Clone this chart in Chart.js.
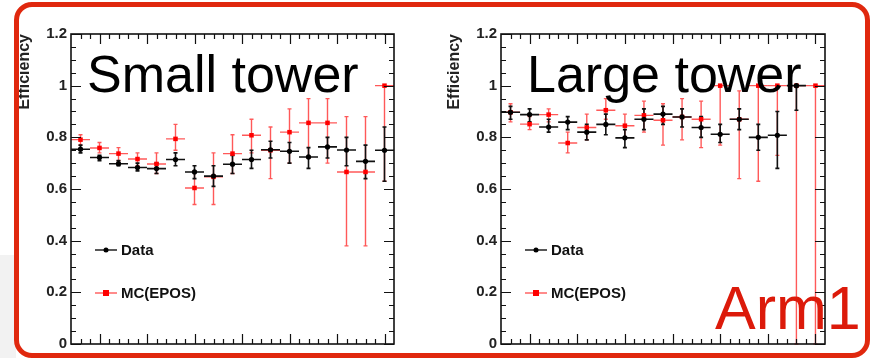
<!DOCTYPE html>
<html>
<head>
<meta charset="utf-8">
<script src="https://cdn.jsdelivr.net/npm/chart.js@4.4.1/dist/chart.umd.min.js"></script>
<style>
  html, body { margin: 0; padding: 0; background: #fff; }
  body { width: 871px; height: 358px; position: relative; overflow: hidden; font-family: "Liberation Sans", Arial, sans-serif; }
  canvas { position: absolute; top: 0; }
  #cLeft { left: 0; }
  #cRight { left: 430px; }
  .grey { position: absolute; left: 0; top: 255px; width: 16px; height: 103px; background: #f2f2f2; }
  .frame { position: absolute; left: 14px; top: 2px; width: 856px; height: 356px; box-sizing: border-box;
           border: 5px solid #e0280e; border-radius: 18px; }
  .title { position: absolute; top: 48px; font-size: 52px; line-height: 52px; color: #000; white-space: nowrap; }
  .arm { position: absolute; left: 715px; top: 278px; font-size: 61px; line-height: 61px; color: #dc1a0a; white-space: nowrap; }
</style>
</head>
<body>
<div class="grey"></div>
<canvas id="cLeft" width="435" height="358"></canvas>
<canvas id="cRight" width="441" height="358"></canvas>
<div class="frame"></div>
<div class="title" style="left:87px">Small tower</div>
<div class="title" style="left:527px">Large tower</div>
<div class="arm">Arm1</div>
<script>
// bins along the (unlabelled) x axis
const bins = [1, 2, 3, 4, 5, 6, 7, 8, 9, 10, 11, 12, 13, 14, 15, 16, 17];
const yTickLabels = ['0', '0.2', '0.4', '0.6', '0.8', '1', '1.2'];
const seriesNames = ['Data', 'MC(EPOS)'];

// Small tower
const smallData   = [0.754, 0.722, 0.698, 0.683, 0.679, 0.714, 0.666, 0.650, 0.696, 0.714, 0.752, 0.746, 0.724, 0.763, 0.751, 0.707, 0.750];
const smallDataLo = [0.74, 0.71, 0.69, 0.67, 0.66, 0.69, 0.64, 0.61, 0.66, 0.68, 0.72, 0.70, 0.68, 0.72, 0.69, 0.64, 0.63];
const smallDataHi = [0.77, 0.73, 0.71, 0.70, 0.70, 0.74, 0.69, 0.69, 0.73, 0.75, 0.785, 0.78, 0.76, 0.80, 0.80, 0.77, 0.84];
const smallMC     = [0.791, 0.759, 0.737, 0.716, 0.697, 0.794, 0.604, 0.647, 0.737, 0.808, 0.75, 0.82, 0.856, 0.856, 0.666, 0.666, 1.0];
const smallMCLo   = [0.77, 0.74, 0.71, 0.69, 0.66, 0.75, 0.54, 0.54, 0.66, 0.74, 0.64, 0.70, 0.72, 0.70, 0.38, 0.38, 0.63];
const smallMCHi   = [0.81, 0.78, 0.76, 0.74, 0.74, 0.85, 0.67, 0.74, 0.81, 0.87, 0.84, 0.91, 0.95, 0.95, 0.88, 0.88, 1.0];

// Large tower
const largeData   = [0.897, 0.888, 0.84, 0.859, 0.82, 0.85, 0.798, 0.87, 0.89, 0.879, 0.838, 0.812, 0.87, 0.80, 0.808, 1.0, null];
const largeDataLo = [0.87, 0.86, 0.82, 0.83, 0.79, 0.81, 0.76, 0.83, 0.85, 0.84, 0.80, 0.78, 0.83, 0.75, 0.68, 0.905, null];
const largeDataHi = [0.92, 0.91, 0.87, 0.88, 0.85, 0.89, 0.83, 0.91, 0.92, 0.91, 0.88, 0.85, 0.91, 0.85, 0.90, 1.0, null];
const largeMC     = [0.897, 0.851, 0.888, 0.778, 0.838, 0.905, 0.845, 0.885, 0.866, 0.879, 0.87, 1.0, 0.87, 1.0, 1.0, 1.0, 1.0];
const largeMCLo   = [0.86, 0.83, 0.86, 0.74, 0.79, 0.87, 0.80, 0.82, 0.77, 0.79, 0.76, 0.77, 0.64, 0.63, 0.73, 0, 0];
const largeMCHi   = [0.93, 0.88, 0.91, 0.82, 0.89, 0.95, 0.89, 0.94, 0.93, 0.95, 0.94, 1.0, 0.98, 1.0, 1.0, 1.0, 1.0];

const BLACK = '#000';
const RED = '#ff0000';

function points(vals, lo, hi) {
  return bins.map((b, i) => ({ x: b - 0.5, y: vals[i], lo: lo[i], hi: hi[i] }))
             .filter(p => p.y !== null);
}

// ROOT style error bars, drawn under the markers
const errorBars = {
  id: 'errorBars',
  beforeDatasetsDraw(chart) {
    const { ctx, scales: { x, y } } = chart;
    ctx.save();
    [1, 0].forEach(di => {
      const ds = chart.data.datasets[di];
      ctx.strokeStyle = ds.errColor;
      ctx.lineWidth = di === 0 ? 1.6 : 1.4;
      ds.data.forEach(p => {
        const px = x.getPixelForValue(p.x);
        const py = y.getPixelForValue(p.y);
        const x0 = x.getPixelForValue(p.x - 0.5);
        const x1 = x.getPixelForValue(p.x + 0.5);
        const yl = y.getPixelForValue(p.lo);
        const yh = y.getPixelForValue(p.hi);
        ctx.beginPath();
        ctx.moveTo(x0, py); ctx.lineTo(x1, py);
        ctx.moveTo(px, yl); ctx.lineTo(px, yh);
        ctx.moveTo(px - 2, yl); ctx.lineTo(px + 2, yl);
        ctx.moveTo(px - 2, yh); ctx.lineTo(px + 2, yh);
        ctx.stroke();
      });
    });
    ctx.restore();
  }
};

// frame, inward ticks and the legend
const rootFrame = {
  id: 'rootFrame',
  afterDraw(chart) {
    const { ctx, chartArea: a, scales: { x, y } } = chart;
    ctx.save();
    ctx.strokeStyle = '#111';
    ctx.lineWidth = 1.6;
    ctx.strokeRect(a.left, a.top, a.right - a.left, a.bottom - a.top);
    ctx.lineWidth = 1.2;
    ctx.beginPath();
    for (let v = 0; v <= 1.2001; v += 0.05) {
      const py = Math.round(y.getPixelForValue(v)) + 0.5;
      const major = Math.abs(v / 0.2 - Math.round(v / 0.2)) < 0.01;
      const len = major ? 10 : 5;
      ctx.moveTo(a.left, py); ctx.lineTo(a.left + len, py);
      ctx.moveTo(a.right, py); ctx.lineTo(a.right - len, py);
    }
    for (let v = 0.5; v < 17; v += 0.5) {
      const px = Math.round(x.getPixelForValue(v)) + 0.5;
      const major = Math.abs((v - 1.5) / 2.5 - Math.round((v - 1.5) / 2.5)) < 0.01;
      const len = major ? 10 : 5;
      ctx.moveTo(px, a.bottom); ctx.lineTo(px, a.bottom - len);
      ctx.moveTo(px, a.top); ctx.lineTo(px, a.top + len);
    }
    ctx.stroke();

    // legend
    const lx = a.left + 24;
    const rows = [a.top + 216, a.top + 259];
    ctx.font = 'bold 15px "Liberation Sans", Arial, sans-serif';
    ctx.textBaseline = 'middle';
    chart.data.datasets.forEach((ds, i) => {
      const ly = rows[i];
      ctx.strokeStyle = ds.errColor;
      ctx.fillStyle = ds.backgroundColor;
      ctx.lineWidth = 1.4;
      ctx.beginPath();
      ctx.moveTo(lx, ly); ctx.lineTo(lx + 22, ly);
      ctx.stroke();
      ctx.beginPath();
      if (i === 0) ctx.arc(lx + 11, ly, 2.5, 0, Math.PI * 2);
      else ctx.rect(lx + 8, ly - 3, 6, 6);
      ctx.fill();
      ctx.fillStyle = '#111';
      ctx.fillText(ds.label, lx + 26, ly + 1);
    });
    ctx.restore();
  }
};

function makeChart(id, dataPts, mcPts, rightPad) {
  new Chart(document.getElementById(id), {
    type: 'scatter',
    data: {
      datasets: [
        { label: seriesNames[0], data: dataPts, backgroundColor: BLACK, borderColor: BLACK, errColor: '#111',
          pointStyle: 'circle', pointRadius: 2.6, borderWidth: 0 },
        { label: seriesNames[1], data: mcPts, backgroundColor: RED, borderColor: RED, errColor: 'rgba(255,0,0,0.65)',
          pointStyle: 'rect', pointRadius: 3.2, borderWidth: 0 }
      ]
    },
    options: {
      responsive: false,
      animation: false,
      layout: { padding: { top: 34, right: rightPad, bottom: 14, left: 0 } },
      scales: {
        x: { type: 'linear', min: 0, max: 17, display: false },
        y: {
          min: 0, max: 1.2,
          afterFit(scale) { scale.width = 71; },
          grid: { display: false, drawTicks: false },
          border: { display: false },
          ticks: {
            stepSize: 0.2,
            padding: 4,
            color: '#222',
            font: { size: 15, weight: 'bold', family: '"Liberation Sans", Arial, sans-serif' },
            callback: (v, i) => yTickLabels[i]
          },
          title: {
            display: true,
            text: 'Efficiency',
            align: 'end',
            color: '#222',
            padding: { top: 15, bottom: 0 },
            font: { size: 16, weight: 'bold', family: '"Liberation Sans", Arial, sans-serif' }
          }
        }
      },
      plugins: { legend: { display: false }, tooltip: { enabled: false } }
    },
    plugins: [errorBars, rootFrame]
  });
}

makeChart('cLeft', points(smallData, smallDataLo, smallDataHi), points(smallMC, smallMCLo, smallMCHi), 41);
makeChart('cRight', points(largeData, largeDataLo, largeDataHi), points(largeMC, largeMCLo, largeMCHi), 46);
</script>
</body>
</html>
